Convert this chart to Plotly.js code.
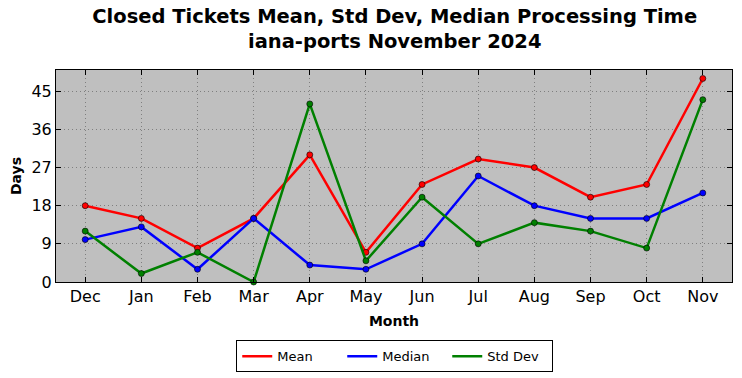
<!DOCTYPE html>
<html>
<head>
<meta charset="utf-8">
<script src="https://cdn.plot.ly/plotly-3.0.1.min.js"></script>
<style>html,body{margin:0;padding:0;background:#fff;}#chart{width:742px;height:378px;}</style>
</head>
<body>
<div id="chart"></div>
<script>
const months = ["Dec","Jan","Feb","Mar","Apr","May","Jun","Jul","Aug","Sep","Oct","Nov"];
const meanDays = [18, 15, 8, 15, 30, 7, 23, 29, 27, 20, 23, 48];
const medianDays = [10, 13, 3, 15, 4, 3, 9, 25, 18, 15, 15, 21];
const stdDays = [12, 2, 7, 0, 42, 5, 20, 9, 14, 12, 8, 43];
const yTicks = [0, 9, 18, 27, 36, 45];

const xIdx = months.map((m, i) => i);
function series(name, y, color) {
  return {
    x: xIdx, y: y, name: name, type: 'scatter', mode: 'lines+markers',
    line: {color: color, width: 2.5},
    marker: {color: color, size: 6, line: {color: '#000', width: 0.6}},
    cliponaxis: false, showlegend: false
  };
}
function legendOnly(name, color) {
  return {x: [null], y: [null], name: name, type: 'scatter', mode: 'lines',
          line: {color: color, width: 2.5}, showlegend: true};
}
const data = [
  series('Mean', meanDays, '#ff0000'),
  series('Median', medianDays, '#0000ff'),
  series('Std Dev', stdDays, '#008000'),
  legendOnly('Mean', '#ff0000'),
  legendOnly('Median', '#0000ff'),
  legendOnly('Std Dev', '#008000')
];
const font = "DejaVu Sans, sans-serif";
const layout = {
  width: 742, height: 378,
  margin: {l: 56, r: 10, t: 70, b: 96, autoexpand: false},
  paper_bgcolor: '#ffffff', plot_bgcolor: '#bfbfbf',
  font: {family: font, color: '#000', size: 14},
  title: {text: '<b>Closed Tickets Mean, Std Dev, Median Processing Time<br>iana-ports November 2024</b>',
          font: {size: 19.5, family: font}, x: 0.532, xanchor: 'center',
          yref: 'container', y: 0.94, yanchor: 'top'},
  xaxis: {
    range: [-0.52, 11.52], tickmode: 'array', tickvals: xIdx, ticktext: months,
    title: {text: '<b>Month</b>', font: {size: 14}, standoff: 10},
    showline: true, linecolor: '#000', linewidth: 1, mirror: 'ticks',
    ticks: 'inside', ticklen: 5, tickcolor: '#000',
    showgrid: true, gridcolor: '#7f7f7f', griddash: '1px,3px', gridwidth: 1, zeroline: false,
    tickfont: {size: 16}
  },
  yaxis: {
    range: [0, 50], tickmode: 'array', tickvals: yTicks,
    title: {text: '<b>Days</b>', font: {size: 14}, standoff: 6},
    showline: true, linecolor: '#000', linewidth: 1, mirror: 'ticks',
    ticks: 'inside', ticklen: 5, tickcolor: '#000',
    showgrid: true, gridcolor: '#7f7f7f', griddash: '1px,3px', gridwidth: 1, zeroline: false,
    tickfont: {size: 16}
  },
  legend: {orientation: 'h', x: 0.532, xanchor: 'center', xref: 'container',
           yref: 'container', y: 0.1, yanchor: 'top',
           bordercolor: '#000', borderwidth: 1, bgcolor: '#fff', font: {size: 13},
           itemwidth: 30, entrywidth: 60},
  showlegend: true
};
Plotly.newPlot('chart', data, layout, {displayModeBar: false, staticPlot: true});
</script>
</body>
</html>
